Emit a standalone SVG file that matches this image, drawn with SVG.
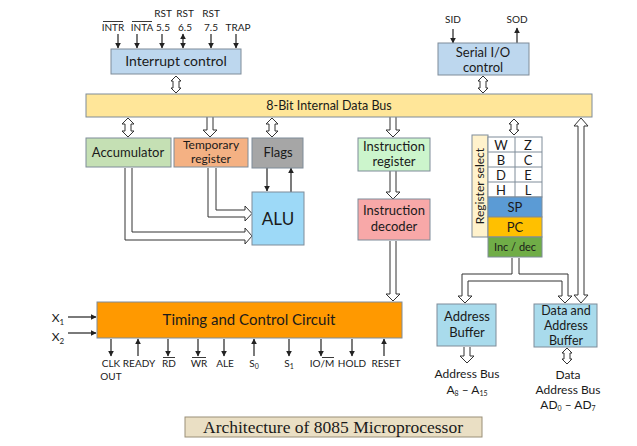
<svg xmlns="http://www.w3.org/2000/svg" width="637" height="446" viewBox="0 0 637 446">
<style>
text{font-family:Lato,"Open Sans","DejaVu Sans",sans-serif;fill:#1a1a1a;text-anchor:middle}
.box{stroke:#7f8c99;stroke-width:1}
.lbl{font-size:10px}
.t13{font-size:13px}
.t14{font-size:14px}
.hol{fill:#fff;stroke:#333;stroke-width:1}
.sig{stroke:#222;stroke-width:1.2;fill:none}
.ov{stroke:#222;stroke-width:0.9}
.sub{font-size:7px}
.bl{font-size:12px}
</style>
<defs>
<marker id="ah" viewBox="0 0 10 10" refX="9" refY="5" markerWidth="5" markerHeight="5" orient="auto-start-reverse">
<path d="M0,0 L10,5 L0,10 Z" fill="#222"/>
</marker>
</defs>
<rect width="637" height="446" fill="#fff"/>

<g id="connectors">
<line class="sig" x1="118" y1="34" x2="118" y2="48" marker-end="url(#ah)"/>
<line class="sig" x1="137" y1="34" x2="137" y2="48" marker-end="url(#ah)"/>
<line class="sig" x1="162" y1="34" x2="162" y2="48" marker-end="url(#ah)"/>
<line class="sig" x1="183" y1="34" x2="183" y2="48" marker-start="url(#ah)" marker-end="url(#ah)"/>
<line class="sig" x1="211" y1="34" x2="211" y2="48" marker-end="url(#ah)"/>
<line class="sig" x1="236" y1="34" x2="236" y2="48" marker-end="url(#ah)"/>
<line class="sig" x1="453" y1="29" x2="453" y2="43" marker-end="url(#ah)"/>
<line class="sig" x1="517" y1="43" x2="517" y2="28" marker-end="url(#ah)"/>
<line class="sig" x1="267" y1="168" x2="267" y2="191" marker-end="url(#ah)"/>
<line class="sig" x1="291" y1="192" x2="291" y2="168" marker-end="url(#ah)"/>
<line class="sig" x1="68" y1="317" x2="96" y2="317" marker-end="url(#ah)"/>
<line class="sig" x1="68" y1="333" x2="96" y2="333" marker-end="url(#ah)"/>
<line class="sig" x1="111" y1="339" x2="111" y2="356" marker-end="url(#ah)"/>
<line class="sig" x1="138" y1="356" x2="138" y2="339" marker-end="url(#ah)"/>
<line class="sig" x1="168" y1="339" x2="168" y2="356" marker-end="url(#ah)"/>
<line class="sig" x1="198" y1="339" x2="198" y2="356" marker-end="url(#ah)"/>
<line class="sig" x1="224" y1="339" x2="224" y2="356" marker-end="url(#ah)"/>
<line class="sig" x1="254" y1="356" x2="254" y2="339" marker-end="url(#ah)"/>
<line class="sig" x1="289" y1="339" x2="289" y2="356" marker-end="url(#ah)"/>
<line class="sig" x1="321" y1="339" x2="321" y2="356" marker-end="url(#ah)"/>
<line class="sig" x1="352" y1="339" x2="352" y2="356" marker-end="url(#ah)"/>
<line class="sig" x1="384" y1="356" x2="384" y2="339" marker-end="url(#ah)"/>

<path class="hol" d="M176,76 L181,81 L179,81 L179,88 L181,88 L176,93 L171,88 L173,88 L173,81 L171,81 Z"/>
<path class="hol" d="M483,76 L488,81 L486,81 L486,88 L488,88 L483,93 L478,88 L480,88 L480,81 L478,81 Z"/>
<path class="hol" d="M128,118 L134,124 L131,124 L131,131 L134,131 L128,137 L122,131 L125,131 L125,124 L122,124 Z"/>
<path class="hol" d="M272,118 L278,124 L275,124 L275,131 L278,131 L272,137 L266,131 L269,131 L269,124 L266,124 Z"/>
<path class="hol" d="M514,119 L519,124 L517,124 L517,130 L519,130 L514,135 L509,130 L511,130 L511,124 L509,124 Z"/>
<path class="hol" d="M581,118 L588,126 L584,126 L584,295 L588,295 L581,303 L574,295 L578,295 L578,126 L574,126 Z"/>
<path class="hol" d="M567,348 L572,353 L570,353 L570,359 L572,359 L567,364 L562,359 L564,359 L564,353 L562,353 Z"/>
<path class="hol" d="M207,117 L207,130 L203,130 L210,137 L217,130 L213,130 L213,117"/>
<path class="hol" d="M390,117 L390,130 L386,130 L393,137 L400,130 L396,130 L396,117"/>
<path class="hol" d="M390,171 L390,192 L386,192 L393,199 L400,192 L396,192 L396,171"/>
<path class="hol" d="M390,241 L390,294 L386,294 L393,301 L400,294 L396,294 L396,241"/>
<path class="hol" d="M464,347 L464,356 L460,356 L467,363 L474,356 L470,356 L470,347"/>
<path class="hol" d="M208,168 L208,217 L245,217 L245,221 L252,213.5 L245,206 L245,210 L216,210 L216,168"/>
<path class="hol" d="M125,168 L125,240 L245,240 L245,244 L252,236 L245,228 L245,232 L132,232 L132,168"/>
<path class="hol" d="M512,258 L512,274 L462,274 L462,296 L458,296 L465,303 L472,296 L468,296 L468,281 L562,281 L562,296 L558,296 L565,303 L572,296 L568,296 L568,274 L519,274 L519,258"/>
</g>

<g id="labels">
<text class="lbl" x="113" y="31">INTR</text>
<line class="ov" x1="103" y1="21.5" x2="123" y2="21.5"/>
<text class="lbl" x="142" y="31">INTA</text>
<line class="ov" x1="132" y1="21.5" x2="152" y2="21.5"/>
<text class="lbl" x="163" y="17">RST</text><text class="lbl" x="163" y="31">5.5</text>
<text class="lbl" x="185" y="17">RST</text><text class="lbl" x="185" y="31">6.5</text>
<text class="lbl" x="211" y="17">RST</text><text class="lbl" x="211" y="31">7.5</text>
<text class="lbl" x="238" y="31">TRAP</text>
<text class="lbl" x="453" y="23">SID</text>
<text class="lbl" x="517" y="23">SOD</text>
<text x="58" y="322" style="font-size:12px">X<tspan dy="3" style="font-size:8px">1</tspan></text>
<text x="58" y="341" style="font-size:12px">X<tspan dy="3" style="font-size:8px">2</tspan></text>
<text class="lbl" x="111" y="367">CLK</text><text class="lbl" x="111" y="380">OUT</text>
<text class="lbl" x="139" y="367">READY</text>
<text class="lbl" x="169" y="367">RD</text>
<line class="ov" x1="163" y1="357.5" x2="175" y2="357.5"/>
<text class="lbl" x="199" y="367">WR</text>
<line class="ov" x1="192" y1="357.5" x2="206" y2="357.5"/>
<text class="lbl" x="225" y="367">ALE</text>
<text class="lbl" x="254" y="367">S<tspan class="sub" dy="2">0</tspan></text>
<text class="lbl" x="289" y="367">S<tspan class="sub" dy="2">1</tspan></text>
<text class="lbl" x="322" y="367">IO/M</text>
<line class="ov" x1="322" y1="357.5" x2="334" y2="357.5"/>
<text class="lbl" x="352" y="367">HOLD</text>
<text class="lbl" x="386" y="367">RESET</text>
<text class="bl" x="467" y="378">Address Bus</text>
<text class="bl" x="467" y="394">A<tspan class="sub" dy="2">8</tspan><tspan dy="-2"> – A</tspan><tspan class="sub" dy="2">15</tspan></text>
<text class="bl" x="568" y="379">Data</text>
<text class="bl" x="568" y="394">Address Bus</text>
<text class="bl" x="568" y="409">AD<tspan class="sub" dy="2">0</tspan><tspan dy="-2"> – AD</tspan><tspan class="sub" dy="2">7</tspan></text>
</g>

<g id="interrupt">
<rect class="box" x="111" y="49" width="130" height="25" fill="#bdd7ee"/>
<text class="t14" x="176" y="66">Interrupt control</text>
</g>
<g id="serial">
<rect class="box" x="438" y="43" width="91" height="32" fill="#bdd7ee"/>
<text class="t13" x="483" y="57">Serial I/O</text>
<text class="t13" x="483" y="72">control</text>
</g>
<g id="bus">
<rect class="box" x="86" y="94" width="506" height="23" fill="#ffe699"/>
<text x="329" y="110" style="font-size:12.5px">8-Bit Internal Data Bus</text>
</g>
<g id="accumulator">
<rect class="box" x="86" y="138" width="85" height="29" fill="#c5e0b4"/>
<text class="t13" x="128" y="157">Accumulator</text>
</g>
<g id="temp">
<rect class="box" x="174" y="138" width="74" height="29" fill="#f4b183"/>
<text x="211" y="149" style="font-size:12px">Temporary</text>
<text x="211" y="163" style="font-size:12px">register</text>
</g>
<g id="flags">
<rect class="box" x="252" y="138" width="51" height="30" fill="#a6a6a6"/>
<text class="t13" x="278" y="157">Flags</text>
</g>
<g id="alu">
<rect class="box" x="252" y="192" width="52" height="53" fill="#9dd9f7"/>
<text x="278" y="225" style="font-size:17px">ALU</text>
</g>
<g id="ir">
<rect class="box" x="358" y="138" width="72" height="33" fill="#ccf5cc"/>
<text class="t13" x="394" y="151">Instruction</text>
<text class="t13" x="394" y="166">register</text>
</g>
<g id="decoder">
<rect class="box" x="358" y="199" width="72" height="41" fill="#f8a8a8"/>
<text class="t13" x="394" y="215">Instruction</text>
<text class="t13" x="394" y="231">decoder</text>
</g>
<g id="registers">
<rect class="box" x="472" y="135" width="16" height="102" fill="#fff2cc"/>
<text transform="translate(484,186) rotate(-90)" style="font-size:12px">Register select</text>
<rect class="box" x="488" y="137" width="54" height="60" fill="#fff"/>
<line class="box" x1="515" y1="137" x2="515" y2="197"/>
<line class="box" x1="488" y1="152" x2="542" y2="152"/>
<line class="box" x1="488" y1="167" x2="542" y2="167"/>
<line class="box" x1="488" y1="182" x2="542" y2="182"/>
<text class="t13" x="501" y="150">W</text><text class="t13" x="528" y="150">Z</text>
<text class="t13" x="501" y="165">B</text><text class="t13" x="528" y="165">C</text>
<text class="t13" x="501" y="180">D</text><text class="t13" x="528" y="180">E</text>
<text class="t13" x="501" y="195">H</text><text class="t13" x="528" y="195">L</text>
<rect class="box" x="488" y="197" width="54" height="20" fill="#5b9bd5"/>
<text class="t13" x="515" y="212">SP</text>
<rect class="box" x="488" y="217" width="54" height="20" fill="#ffc000"/>
<text class="t13" x="515" y="232">PC</text>
<rect class="box" x="488" y="237" width="54" height="20" fill="#70ad47"/>
<text x="515" y="251" style="font-size:11px">Inc / dec</text>
</g>
<g id="timing">
<rect class="box" x="97" y="302" width="305" height="36" fill="#ff9900"/>
<text x="249" y="325" style="font-size:15px">Timing and Control Circuit</text>
</g>
<g id="addrbuf">
<rect class="box" x="437" y="304" width="59" height="42" fill="#a9dbec"/>
<text class="t13" x="467" y="321">Address</text>
<text class="t13" x="467" y="337">Buffer</text>
</g>
<g id="databuf">
<rect class="box" x="534" y="304" width="63" height="43" fill="#a9dbec"/>
<text x="566" y="315" style="font-size:12.5px">Data and</text>
<text x="566" y="330" style="font-size:12.5px">Address</text>
<text x="566" y="345" style="font-size:12.5px">Buffer</text>
</g>
<g id="title">
<rect x="185" y="417" width="297" height="20" fill="#eadfc4" stroke="#9a8f78" stroke-width="1"/>
<text x="333" y="433" style="font-family:'Liberation Serif',serif;font-size:17.5px">Architecture of 8085 Microprocessor</text>
</g>
</svg>
